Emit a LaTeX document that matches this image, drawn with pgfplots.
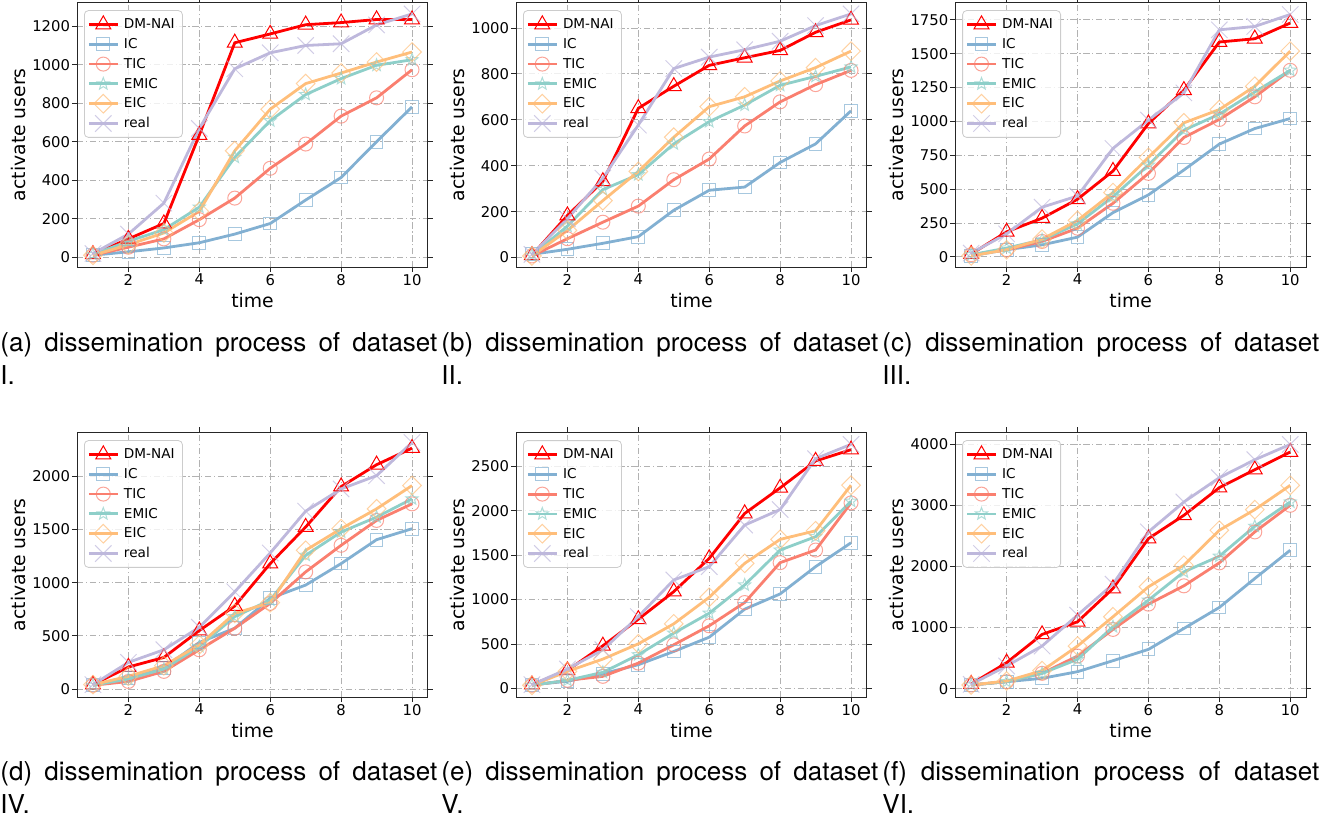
\documentclass[border=0pt]{standalone}
\usepackage{fontspec}
\setmainfont{DejaVu Sans}
\newfontfamily\capfont{TeX Gyre Heros}
\usepackage{pgfplots}
\usepackage{pgfplotstable}
\pgfplotsset{compat=1.18}

\definecolor{cIC}{HTML}{82B0D2}
\definecolor{cTIC}{HTML}{FA7F6F}
\definecolor{cEMIC}{HTML}{8ECFC9}
\definecolor{cEIC}{HTML}{FFBE7A}
\definecolor{cReal}{HTML}{BEB8DC}

% outlined five-pointed star
\pgfdeclareplotmark{ostar}{%
  \pgfpathmoveto{\pgfpointpolar{90}{\pgfplotmarksize}}%
  \pgfpathlineto{\pgfpointpolar{126}{0.42\pgfplotmarksize}}%
  \pgfpathlineto{\pgfpointpolar{162}{\pgfplotmarksize}}%
  \pgfpathlineto{\pgfpointpolar{198}{0.42\pgfplotmarksize}}%
  \pgfpathlineto{\pgfpointpolar{234}{\pgfplotmarksize}}%
  \pgfpathlineto{\pgfpointpolar{270}{0.42\pgfplotmarksize}}%
  \pgfpathlineto{\pgfpointpolar{306}{\pgfplotmarksize}}%
  \pgfpathlineto{\pgfpointpolar{342}{0.42\pgfplotmarksize}}%
  \pgfpathlineto{\pgfpointpolar{18}{\pgfplotmarksize}}%
  \pgfpathlineto{\pgfpointpolar{54}{0.42\pgfplotmarksize}}%
  \pgfpathclose
  \pgfusepathqstroke}

% data: t, DM-NAI, IC, TIC, EMIC, EIC, real
\pgfplotstableread{
t DM IC TIC EMIC EIC real
1 15 10 10 14 10 19
2 95 28 52 83 65 120
3 175 48 95 143 126 281
4 635 75 195 260 238 669
5 1114 120 307 519 553 979
6 1160 175 462 709 769 1062
7 1208 297 588 845 902 1100
8 1219 414 733 928 957 1109
9 1235 600 828 997 1014 1207
10 1235 781 974 1026 1066 1264
}\dataA
\pgfplotstableread{
t DM IC TIC EMIC EIC real
1 10 14 7 10 7 14
2 183 36 82 137 118 169
3 332 62 154 296 248 346
4 650 91 224 361 375 577
5 746 206 339 495 524 823
6 837 293 429 592 657 873
7 870 307 573 664 700 905
8 902 414 678 750 769 942
9 981 495 753 789 827 1010
10 1035 639 815 830 899 1061
}\dataB
\pgfplotstableread{
t DM IC TIC EMIC EIC real
1 20 7 15 15 7 27
2 184 52 52 64 52 169
3 285 88 113 125 130 366
4 425 145 211 243 268 449
5 633 326 395 444 474 800
6 984 457 616 677 734 1009
7 1230 641 881 935 989 1210
8 1586 832 1014 1053 1087 1676
9 1610 947 1181 1217 1259 1701
10 1726 1021 1377 1377 1519 1789
}\dataC
\pgfplotstableread{
t DM IC TIC EMIC EIC real
1 40 40 34 34 40 40
2 206 103 70 94 119 250
3 296 197 165 187 218 368
4 549 437 368 399 415 580
5 780 571 571 680 711 914
6 1179 852 805 836 811 1279
7 1523 977 1101 1257 1304 1672
8 1903 1179 1351 1476 1507 1881
9 2109 1404 1585 1616 1694 2006
10 2265 1507 1741 1788 1913 2318
}\dataD
\pgfplotstableread{
t DM IC TIC EMIC EIC real
1 41 41 34 34 34 41
2 202 79 90 90 191 217
3 479 165 135 180 329 434
4 778 266 284 378 501 808
5 1089 415 490 621 726 1220
6 1463 576 704 846 1025 1370
7 1969 891 966 1164 1407 1838
8 2257 1063 1415 1557 1677 2013
9 2560 1370 1557 1707 1774 2586
10 2687 1639 2088 2107 2287 2747
}\dataE
\pgfplotstableread{
t DM IC TIC EMIC EIC real
1 76 60 60 60 60 71
2 425 114 114 114 125 371
3 888 169 251 251 294 698
4 1095 278 534 480 698 1204
5 1640 458 970 1014 1177 1711
6 2458 643 1384 1450 1668 2567
7 2839 986 1684 1913 2022 3057
8 3292 1330 2060 2169 2594 3455
9 3586 1804 2567 2659 2932 3749
10 3875 2267 3003 3057 3330 4000
}\dataF

\pgfplotsset{
  panel/.style={
    scale only axis, width=175.5pt, height=132.5pt,
    anchor=south west,
    xmin=0.55, xmax=10.45, xtick={2,4,6,8,10},
    tick align=outside, major tick length=2.5pt,
    tick style={black!85, line width=0.4pt},
    axis line style={black!85, line width=0.5pt},
    grid=major,
    major grid style={black!30, line width=0.4pt,
      dash pattern=on 3.2pt off 1.3pt on 0.6pt off 1.3pt},
    tick label style={font=\fontsize{7.4}{8}\selectfont, inner sep=0.8pt},
    /pgf/number format/assume math mode=true,
    /pgf/number format/1000 sep={},
    xlabel={time}, ylabel={activate users},
    label style={font=\fontsize{9.4}{10}\selectfont},
    xlabel style={at={(axis description cs:0.5,-0.151)}, anchor=base},
    ylabel style={at={(axis description cs:-0.148,0.5)}, anchor=base},
    legend cell align=left,
    legend image code/.code={%
      \draw[mark repeat=2,mark phase=2]
        plot coordinates {(0pt,0pt) (7.25pt,0pt) (14.5pt,0pt)};},
    legend style={at={(0,1)}, anchor=north west, xshift=3.5pt, yshift=-4pt,
      draw=black!20, rounded corners=2pt, fill=white, fill opacity=0.8,
      text opacity=1, font=\fontsize{6.8}{7}\selectfont,
      inner xsep=1.5pt, inner ysep=2pt, row sep=0pt,
      column sep=0pt,
      nodes={font=\fontsize{6.8}{7}\selectfont, text height=5.3pt,
        text depth=1pt, inner ysep=1.8pt, inner xsep=2.4pt}},
  },
  sDM/.style={red, line width=1.4pt, mark=triangle, mark size=4.3pt,
    mark options={solid, line width=0.5pt}},
  sIC/.style={cIC, line width=1.4pt, mark=square, mark size=3.2pt,
    mark options={solid, line width=0.5pt, draw opacity=0.7}},
  sTIC/.style={cTIC, line width=1.4pt, mark=o, mark size=3.5pt,
    mark options={solid, line width=0.5pt, draw opacity=0.7}},
  sEMIC/.style={cEMIC, line width=1.4pt, mark=ostar, mark size=3.2pt,
    mark options={solid, line width=0.5pt, draw opacity=0.7}},
  sEIC/.style={cEIC, line width=1.4pt, mark=square, mark size=3.3pt,
    mark options={solid, line width=0.5pt, rotate=45, draw opacity=0.7}},
  sReal/.style={cReal, line width=1.4pt, mark=x, mark size=5.8pt,
    mark options={solid, line width=0.5pt, draw opacity=0.7}},
}

\newcommand{\allseries}[1]{%
  \addplot[sDM] table[x=t,y=DM]{#1}; \addlegendentry{DM-NAI}
  \addplot[sIC] table[x=t,y=IC]{#1}; \addlegendentry{IC}
  \addplot[sTIC] table[x=t,y=TIC]{#1}; \addlegendentry{TIC}
  \addplot[sEMIC] table[x=t,y=EMIC]{#1}; \addlegendentry{EMIC}
  \addplot[sEIC] table[x=t,y=EIC]{#1}; \addlegendentry{EIC}
  \addplot[sReal] table[x=t,y=real]{#1}; \addlegendentry{real}
}

\newcommand{\capline}[4]{% x, y of baseline, first line, second line
  \node[anchor=base west, inner sep=0pt, font=\capfont\fontsize{13}{15}\selectfont]
    at (#1,#2) {\makebox[218.5pt][s]{#3}};
  \node[anchor=base west, inner sep=0pt, font=\capfont\fontsize{13}{15}\selectfont]
    at (#1,#2-16.5pt) {#4};
}

\begin{document}
\begin{tikzpicture}
\useasboundingbox (0pt,0pt) rectangle (665.5pt,-411pt);

\begin{axis}[panel, at={(38.5pt,-133.6pt)}, ymin=-52, ymax=1325,
  ytick={0,200,...,1200}]
  \allseries{\dataA}
\end{axis}
\begin{axis}[panel, at={(258pt,-133.6pt)}, ymin=-42, ymax=1112,
  ytick={0,200,...,1000}]
  \allseries{\dataB}
\end{axis}
\begin{axis}[panel, at={(477.6pt,-133.6pt)}, ymin=-77, ymax=1880,
  ytick={0,250,...,1750}]
  \allseries{\dataC}
\end{axis}

\begin{axis}[panel, at={(38.5pt,-348.6pt)}, ymin=-78, ymax=2415,
  ytick={0,500,...,2000}]
  \allseries{\dataD}
\end{axis}
\begin{axis}[panel, at={(258pt,-348.6pt)}, ymin=-100, ymax=2884,
  ytick={0,500,...,2500}]
  \allseries{\dataE}
\end{axis}
\begin{axis}[panel, at={(477.6pt,-348.6pt)}, ymin=-140, ymax=4200,
  ytick={0,1000,...,4000}]
  \allseries{\dataF}
\end{axis}

\capline{0pt}{-176pt}{(a) dissemination process of dataset}{I.}
\capline{220.5pt}{-176pt}{(b) dissemination process of dataset}{II.}
\capline{441pt}{-176pt}{(c) dissemination process of dataset}{III.}
\capline{0pt}{-390pt}{(d) dissemination process of dataset}{IV.}
\capline{220.5pt}{-390pt}{(e) dissemination process of dataset}{V.}
\capline{441pt}{-390pt}{(f) dissemination process of dataset}{VI.}
\end{tikzpicture}
\end{document}
